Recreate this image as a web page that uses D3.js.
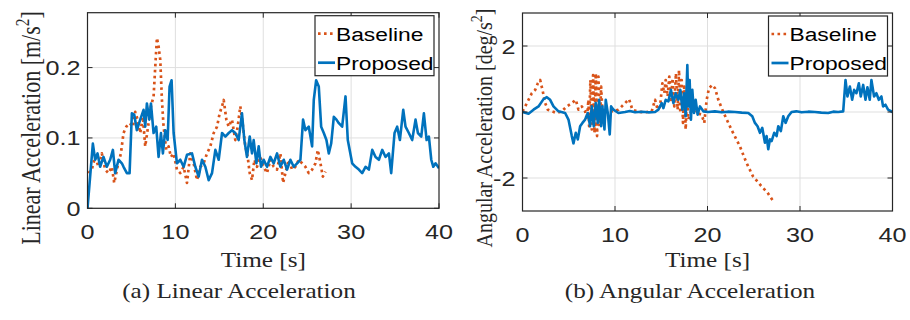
<!DOCTYPE html>
<html><head><meta charset="utf-8">
<script src="https://cdn.jsdelivr.net/npm/d3@7"></script>
<style>html,body{margin:0;padding:0;background:#fff;}svg{display:block;}</style>
</head><body>
<svg id="chart" width="910" height="320"></svg>
<script>
// ---------- data ----------
const linTimeProposed = [0,0.61,0.87,1.14,1.44,1.82,2.20,2.58,2.89,3.15,3.53,3.91,4.10,4.48,4.79,5.05,5.32,5.62,6.00,6.38,6.57,6.76,7.03,7.22,7.52,7.82,8.09,8.36,8.58,8.85,9.12,9.34,9.57,9.80,10.18,10.56,10.94,11.32,11.89,12.27,12.65,13.03,13.41,13.79,14.17,14.55,14.93,15.31,15.69,16.07,16.44,16.82,17.20,17.58,17.85,18.15,18.46,18.72,18.91,19.22,19.48,19.75,20.05,20.43,20.81,21.19,21.57,21.95,22.33,22.71,23.09,23.47,23.85,24.23,24.53,24.80,25.18,25.56,25.75,26.02,26.32,26.59,26.89,27.19,27.46,27.73,28.03,28.33,28.60,28.98,29.36,29.62,30.12,30.50,30.88,31.26,31.64,32.02,32.40,32.78,33.16,33.54,33.92,34.30,34.56,34.94,35.24,35.55,35.93,36.19,36.57,36.95,37.33,37.60,37.98,38.28,38.59,38.85,39.12,39.35,39.61,40.0];
const linProposed = [0,0.092,0.069,0.078,0.059,0.073,0.059,0.069,0.083,0.050,0.069,0.064,0.059,0.050,0.050,0.135,0.133,0.111,0.126,0.140,0.116,0.149,0.126,0.149,0.107,0.116,0.073,0.107,0.078,0.111,0.097,0.173,0.182,0.107,0.064,0.069,0.059,0.076,0.078,0.059,0.045,0.069,0.059,0.040,0.050,0.083,0.069,0.107,0.102,0.107,0.111,0.107,0.097,0.135,0.097,0.073,0.102,0.078,0.097,0.064,0.088,0.059,0.069,0.059,0.073,0.064,0.078,0.059,0.069,0.055,0.069,0.059,0.064,0.069,0.126,0.111,0.116,0.088,0.154,0.182,0.173,0.116,0.107,0.097,0.078,0.092,0.130,0.126,0.121,0.116,0.159,0.097,0.064,0.059,0.055,0.050,0.059,0.055,0.083,0.073,0.069,0.083,0.073,0.078,0.050,0.107,0.116,0.097,0.140,0.116,0.107,0.097,0.126,0.107,0.102,0.135,0.097,0.102,0.069,0.059,0.064,0.057];
const linTimeBaseline = [0.11,0.49,0.87,1.25,1.63,2.01,2.39,2.77,3.04,3.42,3.80,4.10,4.41,4.79,5.17,5.43,5.70,6.00,6.30,6.57,6.95,7.22,7.52,7.71,7.90,8.09,8.28,8.47,8.66,8.96,9.23,9.49,9.80,10.18,10.56,10.94,11.32,11.70,12.08,12.46,12.84,13.22,13.60,13.98,14.36,14.74,15.04,15.31,15.50,15.80,16.07,16.44,16.82,17.09,17.39,17.70,17.96,18.23,18.46,18.72,18.99,19.29,19.67,20.05,20.43,20.81,21.19,21.57,21.95,22.26,22.52,22.90,23.28,23.66,24.04,24.42,24.80,25.18,25.56,25.94,26.21,26.51,26.78,27.08];
const linBaseline = [0.050,0.055,0.073,0.059,0.078,0.055,0.050,0.059,0.036,0.059,0.078,0.107,0.116,0.121,0.116,0.137,0.126,0.107,0.130,0.088,0.121,0.145,0.159,0.201,0.242,0.230,0.211,0.154,0.116,0.083,0.088,0.073,0.078,0.055,0.050,0.059,0.036,0.078,0.064,0.040,0.059,0.064,0.078,0.088,0.107,0.116,0.135,0.145,0.154,0.126,0.116,0.126,0.097,0.116,0.145,0.116,0.088,0.073,0.050,0.040,0.069,0.059,0.073,0.059,0.050,0.069,0.059,0.055,0.078,0.036,0.050,0.069,0.055,0.059,0.069,0.064,0.059,0.050,0.055,0.064,0.083,0.064,0.045,0.052];

const angTimeProposed = [0,0.65,1.19,1.73,2.27,2.63,2.99,3.35,3.89,4.61,4.97,5.33,5.51,5.76,5.98,6.23,6.48,6.77,7.06,7.31,7.49,7.70,7.92,8.14,8.28,8.50,8.64,8.86,9.00,9.22,9.43,9.58,9.83,10.37,11.09,11.60,12.17,12.89,13.61,14.33,14.69,15.05,15.23,15.48,15.77,16.05,16.31,16.56,16.85,17.06,17.28,17.46,17.64,17.82,17.93,18.07,18.21,18.36,18.54,18.72,18.93,19.19,19.55,20.09,20.80,21.53,22.20,22.97,23.70,24.41,24.84,25.13,25.41,25.67,25.92,26.21,26.39,26.57,26.75,26.93,27.21,27.47,27.65,27.93,28.19,28.44,28.73,29.09,29.60,30.17,30.90,31.61,32.30,33.05,33.60,34.13,34.67,34.92,35.13,35.39,35.64,35.85,36.10,36.36,36.57,36.83,37.08,37.29,37.54,37.72,38.01,38.26,38.52,38.80,38.98,39.24,39.52,40.0];
const angProposed = [0,-0.05,0.07,0.17,0.39,0.45,0.37,0.17,0.02,-0.03,-0.23,-0.73,-0.95,-0.63,-0.83,-0.43,-0.33,-0.23,-0.03,-0.43,0.17,-0.43,0.27,-0.33,0.37,-0.43,0.17,-0.53,0.37,-0.03,-0.68,0.17,0.07,-0.03,0,0.03,-0.01,0.01,-0.01,0,0.07,0.27,0.12,0.37,0.32,0.67,0.27,0.57,0.37,0.67,0.07,0.57,-0.13,1.42,0.17,0.97,-0.23,0.67,-0.03,0.37,-0.08,0.17,0.02,0,0.02,-0.01,0.01,0,-0.02,-0.03,-0.13,-0.33,-0.43,-0.63,-0.48,-0.93,-0.73,-1.13,-0.83,-0.88,-0.63,-0.73,-0.43,-0.58,-0.13,-0.33,-0.13,0,0.02,-0.01,0.01,0,-0.02,-0.03,0.01,0,0.02,0.97,0.47,0.77,0.37,0.67,0.57,0.87,0.47,0.82,0.37,0.75,0.37,0.97,0.47,0.57,0.37,0.47,0.17,0.22,0.07,0];
const angTimeBaseline = [0,0.29,0.65,1.01,1.37,1.66,1.91,2.16,2.45,2.74,3.17,3.71,4.25,4.79,5.33,5.76,6.05,6.41,6.77,6.95,7.13,7.20,7.34,7.49,7.63,7.78,7.92,8.06,8.21,8.35,8.50,8.64,9.11,9.65,10.37,11.09,11.52,11.88,12.53,13.25,13.97,14.33,14.61,14.87,15.12,15.33,15.48,15.69,15.87,16.05,16.23,16.41,16.59,16.77,16.92,17.06,17.21,17.35,17.49,17.64,17.78,17.93,18.29,18.83,19.37,19.65,19.91,20.16,20.52,20.81,21.17,21.70,22.60,23.50,24.20,24.90,25.80,26.50,27.10];
const angBaseline = [0.02,0.17,0.37,0.57,0.67,0.87,0.97,0.67,0.27,0.07,0.02,-0.03,0.02,0.17,0.27,0.37,0.07,0.17,0.02,-0.23,0.37,-0.43,0.97,-0.53,1.12,-0.63,1.17,-0.73,1.07,-0.43,0.77,-0.03,0.07,0.02,0.07,0.27,0.39,0.07,0.01,-0.01,0.02,0.37,0.07,0.17,0.87,0.57,0.97,0.47,1.07,0.37,1.02,0.17,1.17,0.07,1.27,-0.03,0.97,-0.33,0.77,-0.53,0.47,-0.23,0.07,-0.03,-0.08,-0.33,0.37,0.72,0.82,0.72,0.37,0.0,-0.54,-1.04,-1.53,-1.94,-2.24,-2.45,-2.70];

const xTicks = [0,10,20,30,40];
const linYTicks = [0,0.1,0.2];
const linYTickLabels = ["0","0.1","0.2"];
const angYTicks = [-2,0,2];
const angYTickLabels = ["-2","0","2"];
const seriesNames = ["Baseline","Proposed"];
const colors = {Baseline:"#D95319", Proposed:"#0072BD"};

// ---------- drawing ----------
const SX = 1.2;
const svg = d3.select("#chart");
const SANS = "'Liberation Sans', Arial, sans-serif";
const SERIF = "'Liberation Serif', 'Times New Roman', serif";

function stext(parent, x, y, str, o) {
  const g = parent.append("g").attr("transform", `translate(${x},${y}) scale(${SX},1)` + (o.rotate ? " rotate(-90)" : ""));
  const t = g.append("text").attr("x",0).attr("y",0)
    .attr("text-anchor", o.anchor || "middle")
    .attr("font-family", o.family || SANS)
    .attr("font-size", o.size)
    .attr("fill", o.fill || "#262626");
  if (o.sup) {
    t.append("tspan").text(str);
    t.append("tspan").attr("dy", -o.size*0.42).attr("font-size", o.size*0.7).text(o.sup);
    t.append("tspan").attr("dy", o.size*0.42).text(o.after || "");
  } else t.text(str);
  return t;
}

function panel(cfg) {
  const x = d3.scaleLinear().domain([0,40]).range([cfg.left, cfg.right]);
  const y = d3.scaleLinear().domain(cfg.yDomain).range([cfg.bottom, cfg.top]);
  const g = svg.append("g");
  const id = "clip" + cfg.key;
  svg.append("defs").append("clipPath").attr("id", id).append("rect")
    .attr("x", cfg.left).attr("y", cfg.top).attr("width", cfg.right-cfg.left).attr("height", cfg.bottom-cfg.top);

  // grid
  g.append("g").selectAll("line").data(xTicks.slice(1,-1)).join("line")
    .attr("x1", d=>x(d)).attr("x2", d=>x(d)).attr("y1", cfg.top).attr("y2", cfg.bottom)
    .attr("stroke", "#dfdfdf").attr("stroke-width", 1);
  g.append("g").selectAll("line").data(cfg.yTicks).join("line")
    .attr("x1", cfg.left).attr("x2", cfg.right).attr("y1", d=>y(d)).attr("y2", d=>y(d))
    .attr("stroke", "#dfdfdf").attr("stroke-width", 1);

  // lines
  const lineGen = d3.line().x(d=>x(d[0])).y(d=>y(d[1]));
  const lg = g.append("g").attr("clip-path", `url(#${id})`);
  lg.append("path").datum(d3.zip(cfg.tB, cfg.vB)).attr("d", lineGen)
    .attr("fill","none").attr("stroke", colors.Baseline).attr("stroke-width", 2.7)
    .attr("stroke-dasharray","2.6,3.4").attr("stroke-linejoin","round");
  lg.append("path").datum(d3.zip(cfg.tP, cfg.vP)).attr("d", lineGen)
    .attr("fill","none").attr("stroke", colors.Proposed).attr("stroke-width", 2.6)
    .attr("stroke-linejoin","round");

  // box + ticks
  g.append("rect").attr("x", cfg.left).attr("y", cfg.top).attr("width", cfg.right-cfg.left).attr("height", cfg.bottom-cfg.top)
    .attr("fill","none").attr("stroke","#262626").attr("stroke-width",1.2);
  const tl = 5;
  const tg = g.append("g").attr("stroke","#262626").attr("stroke-width",1);
  xTicks.forEach(t => {
    tg.append("line").attr("x1",x(t)).attr("x2",x(t)).attr("y1",cfg.bottom).attr("y2",cfg.bottom-tl);
    tg.append("line").attr("x1",x(t)).attr("x2",x(t)).attr("y1",cfg.top).attr("y2",cfg.top+tl);
  });
  cfg.yTicks.forEach(t => {
    tg.append("line").attr("x1",cfg.left).attr("x2",cfg.left+tl).attr("y1",y(t)).attr("y2",y(t));
    tg.append("line").attr("x1",cfg.right).attr("x2",cfg.right-tl).attr("y1",y(t)).attr("y2",y(t));
  });

  // tick labels
  xTicks.forEach(t => stext(g, x(t), cfg.bottom + 31, String(t), {size:21}));
  cfg.yTicks.forEach((t,i) => stext(g, cfg.left - 7, y(t) + 7.5, cfg.yTickLabels[i], {size:21, anchor:"end"}));

  // axis labels
  stext(g, (cfg.left+cfg.right)/2, 267, "Time [s]", {size:21, family:SERIF});
  stext(g, cfg.yLabelX, 128, cfg.yLabel, {size:cfg.yLabelSize, family:SERIF, rotate:true, sup:"2", after:"]"});
  stext(g, cfg.capX, 298, cfg.caption, {size:21, family:SERIF});

  // legend
  const lw = 119, lh = 60;
  const lx = cfg.right - 5 - lw, ly = cfg.top + 3;
  const leg = g.append("g");
  leg.append("rect").attr("x",lx).attr("y",ly).attr("width",lw).attr("height",lh)
    .attr("fill","#fff").attr("stroke","#262626").attr("stroke-width",1.2);
  seriesNames.forEach((n,i) => {
    const yy = ly + 18 + i*29;
    leg.append("line").attr("x1",lx+3).attr("x2",lx+20).attr("y1",yy).attr("y2",yy)
      .attr("stroke",colors[n]).attr("stroke-width",2.7)
      .attr("stroke-dasharray", n==="Baseline" ? "2.6,3.4" : null);
    stext(leg, lx+21, yy+7, n, {size:19, anchor:"start", fill:"#000"});
  });
}

panel({key:"a", left:87.5, right:439, top:12.7, bottom:208.3, yDomain:[0,0.278],
  yTicks:linYTicks, yTickLabels:linYTickLabels,
  tP:linTimeProposed, vP:linProposed, tB:linTimeBaseline, vB:linBaseline,
  yLabel:"Linear Acceleration [m/s", yLabelX:40, yLabelSize:22,
  caption:"(a) Linear Acceleration", capX:239});
panel({key:"b", left:522.5, right:892.5, top:13, bottom:211, yDomain:[-3,3],
  yTicks:angYTicks, yTickLabels:angYTickLabels,
  tP:angTimeProposed, vP:angProposed, tB:angTimeBaseline, vB:angBaseline,
  yLabel:"Angular Acceleration [deg/s", yLabelX:492, yLabelSize:20,
  caption:"(b) Angular Acceleration", capX:690});
</script>
</body></html>
